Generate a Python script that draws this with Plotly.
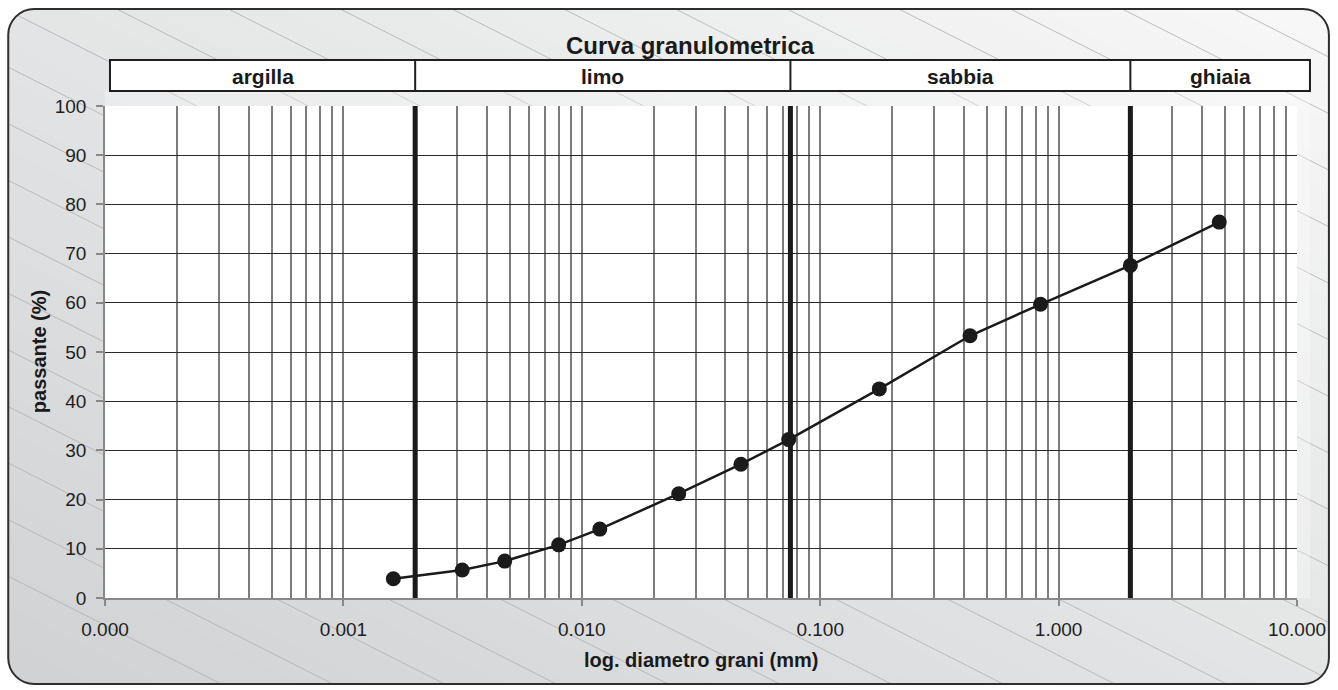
import numpy as np
import plotly.graph_objects as go

# ---------------- data ----------------
diametri_mm = [0.00162, 0.00315, 0.00475, 0.00800, 0.0119, 0.0255, 0.0465,
               0.0738, 0.177, 0.425, 0.84, 2.0, 4.72]
passante_pct = [3.9, 5.7, 7.5, 10.8, 14.0, 21.2, 27.2, 32.2, 42.5, 53.3, 59.7, 67.6, 76.4]
limiti_mm = [0.002, 0.075, 2.0]
classi = ["argilla", "limo", "sabbia", "ghiaia"]
x_tick_vals = [0.0001, 0.001, 0.01, 0.1, 1, 10]
x_tick_text = ["0.000", "0.001", "0.010", "0.100", "1.000", "10.000"]
y_tick_vals = list(range(0, 101, 10))
titolo = "Curva granulometrica"
x_titolo = "log. diametro grani (mm)"
y_titolo = "passante (%)"

# ---------------- geometry ----------------
W, H = 1338, 690
ML, MR, MT, MB = 105, 38, 106, 92
PW, PH = W - ML - MR, H - MT - MB
X_LOG_MIN, X_LOG_MAX = -4, 1


def px(x):
    return (x - ML) / PW


def py(y):
    return (H - MB - y) / PH


def xpix_data(v):
    return ML + (np.log10(v) - X_LOG_MIN) / (X_LOG_MAX - X_LOG_MIN) * PW


BL, BR, BT, BB, RAD = 8, 1332, 9, 684, 26
TAB_L, TAB_R, TAB_T, TAB_B = 110, 1313, 60, 91

NARROW = "Liberation Sans Narrow, Arial Narrow, Liberation Sans, Arial, sans-serif"
SANS = "Liberation Sans, Arial, sans-serif"

shapes = []

# gradient background (diagonal bands)
c0 = np.array([209, 210, 212])
c1 = np.array([247, 248, 247])
N = 50
s_lo, s_hi = -0.3, 2.3
for k in range(N):
    s0 = s_lo + (s_hi - s_lo) * k / N
    s1 = s_lo + (s_hi - s_lo) * (k + 1) / N + 0.004
    t = np.clip(((s0 + s1) / 2) / 2, 0, 1)
    col = c0 + (c1 - c0) * t
    pts = [(-0.2, s0 + 0.2), (1.2, s0 - 1.2), (1.2, s1 - 1.2), (-0.2, s1 + 0.2)]
    path = ""
    for i, (u, v) in enumerate(pts):
        X = BL + u * (BR - BL)
        Y = BB - v * (BB - BT)
        path += ("M" if i == 0 else "L") + f"{px(X):.5f},{py(Y):.5f} "
    path += "Z"
    shapes.append(dict(type="path", path=path, xref="paper", yref="paper",
                       fillcolor=f"rgb({int(col[0])},{int(col[1])},{int(col[2])})",
                       line=dict(width=0), layer="below"))

# diagonal hatch lines
slope = 0.505
for k in range(-10, 16):
    x0 = -13 + 112 * k
    xa, xb = BL - 40, BR + 40
    ya, yb = slope * (xa - x0), slope * (xb - x0)
    if yb < BT or ya > BB:
        continue
    shapes.append(dict(type="line", xref="paper", yref="paper",
                       x0=px(xa), y0=py(ya), x1=px(xb), y1=py(yb),
                       line=dict(color="#b0b0b0", width=0.8), layer="below"))

# subtle lighter plot-area frame
shapes.append(dict(type="rect", xref="paper", yref="paper",
                   x0=px(ML), x1=px(TAB_R), y0=py(H - MB), y1=py(TAB_B),
                   fillcolor="rgba(255,255,255,0.3)", line=dict(width=0), layer="below"))

# white outside cover
for (xa, xb, ya, yb) in [(-10, BL, -10, H + 10), (BR, W + 10, -10, H + 10),
                         (-10, W + 10, -10, BT), (-10, W + 10, BB, H + 10)]:
    shapes.append(dict(type="rect", xref="paper", yref="paper",
                       x0=px(xa), x1=px(xb), y0=py(ya), y1=py(yb),
                       fillcolor="white", line=dict(width=0), layer="below"))

kk = 0.5523


def corner_patch(cx, cy, dx, dy):
    ax_, ay_ = cx + dx * RAD, cy
    bx_, by_ = cx, cy + dy * RAD
    c1x, c1y = cx + dx * RAD * (1 - kk), cy
    c2x, c2y = cx, cy + dy * RAD * (1 - kk)
    ox, oy = cx - dx * 1.5, cy - dy * 1.5
    return (f"M{px(ox):.5f},{py(oy):.5f} L{px(ax_):.5f},{py(oy):.5f} L{px(ax_):.5f},{py(ay_):.5f} "
            f"C{px(c1x):.5f},{py(c1y):.5f} {px(c2x):.5f},{py(c2y):.5f} {px(bx_):.5f},{py(by_):.5f} "
            f"L{px(ox):.5f},{py(by_):.5f} Z")


for (cx, cy, dx, dy) in [(BL, BT, 1, 1), (BR, BT, -1, 1), (BL, BB, 1, -1), (BR, BB, -1, -1)]:
    shapes.append(dict(type="path", xref="paper", yref="paper", path=corner_patch(cx, cy, dx, dy),
                       fillcolor="white", line=dict(width=0), layer="below"))

# rounded border
r = RAD
bp = (f"M{px(BL + r):.5f},{py(BT):.5f} L{px(BR - r):.5f},{py(BT):.5f} "
      f"C{px(BR - r * (1 - kk)):.5f},{py(BT):.5f} {px(BR):.5f},{py(BT + r * (1 - kk)):.5f} {px(BR):.5f},{py(BT + r):.5f} "
      f"L{px(BR):.5f},{py(BB - r):.5f} "
      f"C{px(BR):.5f},{py(BB - r * (1 - kk)):.5f} {px(BR - r * (1 - kk)):.5f},{py(BB):.5f} {px(BR - r):.5f},{py(BB):.5f} "
      f"L{px(BL + r):.5f},{py(BB):.5f} "
      f"C{px(BL + r * (1 - kk)):.5f},{py(BB):.5f} {px(BL):.5f},{py(BB - r * (1 - kk)):.5f} {px(BL):.5f},{py(BB - r):.5f} "
      f"L{px(BL):.5f},{py(BT + r):.5f} "
      f"C{px(BL):.5f},{py(BT + r * (1 - kk)):.5f} {px(BL + r * (1 - kk)):.5f},{py(BT):.5f} {px(BL + r):.5f},{py(BT):.5f} Z")
shapes.append(dict(type="path", xref="paper", yref="paper", path=bp,
                   line=dict(color="#2e2e2e", width=2), layer="below"))

# header table
shapes.append(dict(type="rect", xref="paper", yref="paper",
                   x0=px(TAB_L), x1=px(TAB_R), y0=py(TAB_B), y1=py(TAB_T),
                   fillcolor="white", line=dict(color="#1e1e1e", width=2), layer="below"))
for b in limiti_mm:
    shapes.append(dict(type="line", xref="x", yref="paper", x0=b, x1=b,
                       y0=py(TAB_B), y1=py(TAB_T),
                       line=dict(color="#1e1e1e", width=2), layer="below"))

# white plot area
shapes.append(dict(type="rect", xref="paper", yref="paper", x0=0, x1=1, y0=0, y1=1,
                   fillcolor="white", line=dict(width=0), layer="below"))

# ---------------- annotations ----------------
annotations = []
annotations.append(dict(text=f"<b>{titolo}</b>", xref="paper", yref="paper",
                        x=px(692), y=py(46), showarrow=False, xanchor="center", yanchor="middle",
                        font=dict(family=SANS, size=24, color="#1a1a1a")))
edges = [TAB_L] + [xpix_data(b) for b in limiti_mm] + [TAB_R]
for i, name in enumerate(classi):
    cxp = (edges[i] + edges[i + 1]) / 2
    annotations.append(dict(text=f"<b>{name}</b>", xref="paper", yref="paper",
                            x=px(cxp), y=py((TAB_T + TAB_B) / 2 + 1), showarrow=False,
                            xanchor="center", yanchor="middle",
                            font=dict(family=NARROW, size=21, color="#1a1a1a")))
annotations.append(dict(text=f"<b>{x_titolo}</b>", xref="paper", yref="paper",
                        x=px(703), y=py(660), showarrow=False, xanchor="center", yanchor="middle",
                        font=dict(family=NARROW, size=20, color="#1a1a1a")))
annotations.append(dict(text=f"<b>{y_titolo}</b>", xref="paper", yref="paper",
                        x=px(39), y=py(352), showarrow=False, xanchor="center", yanchor="middle",
                        textangle=-90, font=dict(family=NARROW, size=20, color="#1a1a1a")))

# ---------------- traces ----------------
fig = go.Figure()
for b in limiti_mm:
    fig.add_trace(go.Scatter(x=[b, b], y=[0, 100], mode="lines",
                             line=dict(color="#1a1a1a", width=5), hoverinfo="skip", showlegend=False))
fig.add_trace(go.Scatter(x=diametri_mm, y=passante_pct, mode="lines+markers",
                         line=dict(color="#1a1a1a", width=2.5),
                         marker=dict(color="#1a1a1a", size=15), showlegend=False))

minor_x = [m * 10.0 ** e for e in range(-4, 1) for m in range(1, 10) if not (m == 1 and e == -4)]

fig.update_layout(
    width=W, height=H,
    margin=dict(l=ML, r=MR, t=MT, b=MB, pad=0),
    paper_bgcolor="white", plot_bgcolor="rgba(0,0,0,0)",
    shapes=shapes, annotations=annotations, showlegend=False,
    font=dict(family=SANS, size=19, color="#1e1e1e"),
    xaxis=dict(type="log", range=[X_LOG_MIN, X_LOG_MAX], tickmode="array",
               tickvals=x_tick_vals, ticktext=x_tick_text, showgrid=False,
               ticks="outside", ticklen=6, tickcolor="#888888", tickwidth=1.5,
               showline=True, linecolor="#888888", linewidth=1.5,
               ticklabelstandoff=7, zeroline=False,
               minor=dict(tickmode="array", tickvals=minor_x, showgrid=True,
                          gridcolor="#7c7c7c", gridwidth=1.5, ticks="")),
    yaxis=dict(range=[0, 100], tickmode="array", tickvals=y_tick_vals, showgrid=False,
               ticks="outside", ticklen=7, tickcolor="#888888", tickwidth=1.5,
               showline=True, linecolor="#888888", linewidth=1.5,
               ticklabelstandoff=6, zeroline=False,
               minor=dict(tickmode="array", tickvals=y_tick_vals[1:-1], showgrid=True,
                          gridcolor="#2a2a2a", gridwidth=1, ticks="")),
)

fig.write_html("out.html", config={"displayModeBar": False},
               post_script="document.body.style.margin='0px';document.body.style.padding='0px';")
